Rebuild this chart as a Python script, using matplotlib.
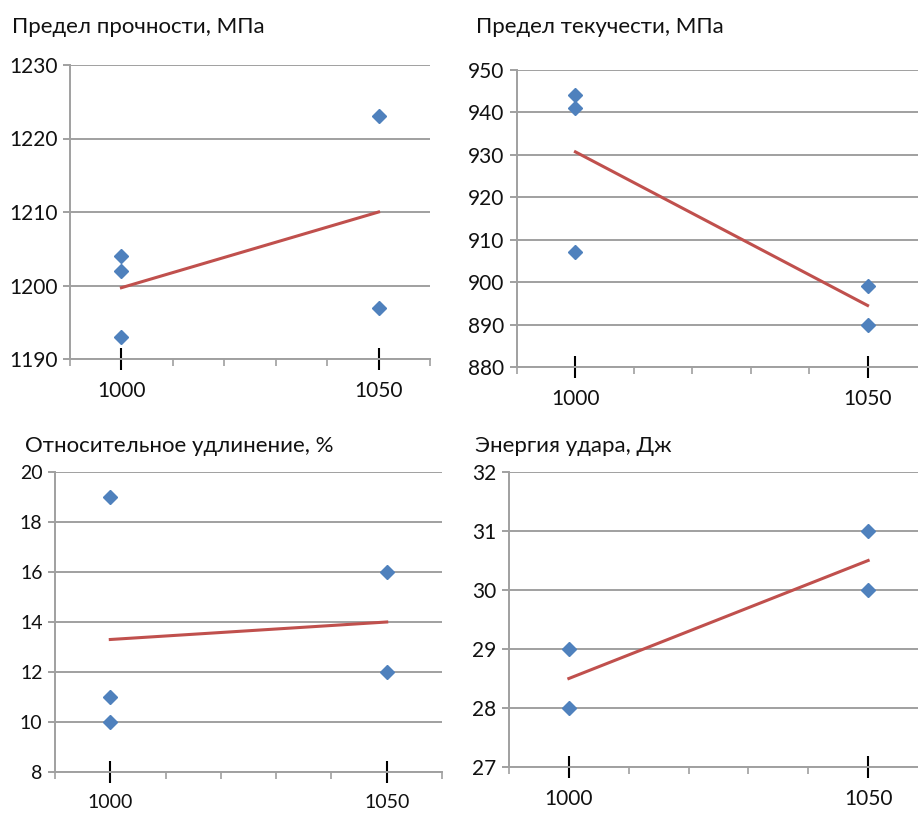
import matplotlib
matplotlib.use("Agg")
import matplotlib.pyplot as plt
from matplotlib.ticker import MultipleLocator, FixedLocator

plt.rcParams['font.family'] = ['Lato', 'DejaVu Sans']

# temperatures (x values)
x_pts = [1000, 1000, 1000, 1050, 1050]
x_pts2 = [1000, 1000, 1050, 1050]
x_line = [1000, 1050]

# Предел прочности, МПа
uts = [1204, 1202, 1193, 1223, 1197]
uts_mean = [1199.7, 1210]
# Предел текучести, МПа
ys = [944, 941, 907, 899, 890]
ys_mean = [930.7, 894.5]
# Относительное удлинение, %
elong = [19, 11, 10, 16, 12]
elong_mean = [13.3, 14]
# Энергия удара, Дж
energy = [29, 28, 31, 30]
energy_mean = [28.5, 30.5]

titles = ["Предел прочности, МПа", "Предел текучести, МПа",
          "Относительное удлинение, %", "Энергия удара, Дж"]
ylims = [(1190, 1230), (880, 950), (8, 20), (27, 32)]
ysteps = [10, 10, 2, 1]

W, H = 918, 818
blue = '#4F81BD'
red = '#C0504D'
grid = '#A0A0A0'
txt = '#111111'

fig = plt.figure(figsize=(W / 100, H / 100), dpi=100)

# axes boxes in pixels: left, top, right, bottom
boxes = [(70, 65, 430, 359), (517, 70, 926, 367),
         (55, 472, 442, 772), (509, 472, 928, 767)]
title_pos = [(12, 33), (476, 33), (25, 452), (475, 452)]
tick_fs = [15, 15, 14, 15]
title_fs = [16, 16, 16, 16]

panels = [(x_pts, uts, uts_mean), (x_pts, ys, ys_mean),
          (x_pts, elong, elong_mean), (x_pts2, energy, energy_mean)]

for i, (xs, vals, means) in enumerate(panels):
    l, t, r, b = boxes[i]
    ax = fig.add_axes([l / W, 1 - b / H, (r - l) / W, (b - t) / H])
    ax.plot(x_line, means, color=red, lw=2.2, zorder=3)
    ax.plot(xs, vals, 'D', color=blue, ms=6.8, mec=blue, zorder=4, clip_on=False)
    ax.set_xlim(990, 1060)
    ax.set_ylim(*ylims[i])
    ax.yaxis.set_major_locator(MultipleLocator(ysteps[i]))
    ax.xaxis.set_major_locator(FixedLocator([1000, 1050]))
    ax.xaxis.set_minor_locator(MultipleLocator(10))
    ax.grid(axis='y', color=grid, lw=1.4)
    ax.set_axisbelow(True)
    for s in ['top', 'right']:
        ax.spines[s].set_visible(False)
    for s in ['left', 'bottom']:
        ax.spines[s].set_color(grid)
        ax.spines[s].set_linewidth(1.4)
    ax.tick_params(axis='y', colors=grid, labelcolor=txt, length=5, width=1.4,
                   labelsize=tick_fs[i], pad=4)
    ax.tick_params(axis='x', which='major', direction='inout', length=16,
                   width=1.5, color='black', labelcolor=txt,
                   labelsize=tick_fs[i], pad=8)
    ax.tick_params(axis='x', which='minor', direction='out', length=5,
                   width=1.2, color=grid)
    ax.set_xticklabels(['1000', '1050'])
    tx, ty = title_pos[i]
    fig.text(tx / W, 1 - ty / H, titles[i], fontsize=title_fs[i], color=txt,
             ha='left', va='baseline')

fig.savefig("out.png", dpi=100)
